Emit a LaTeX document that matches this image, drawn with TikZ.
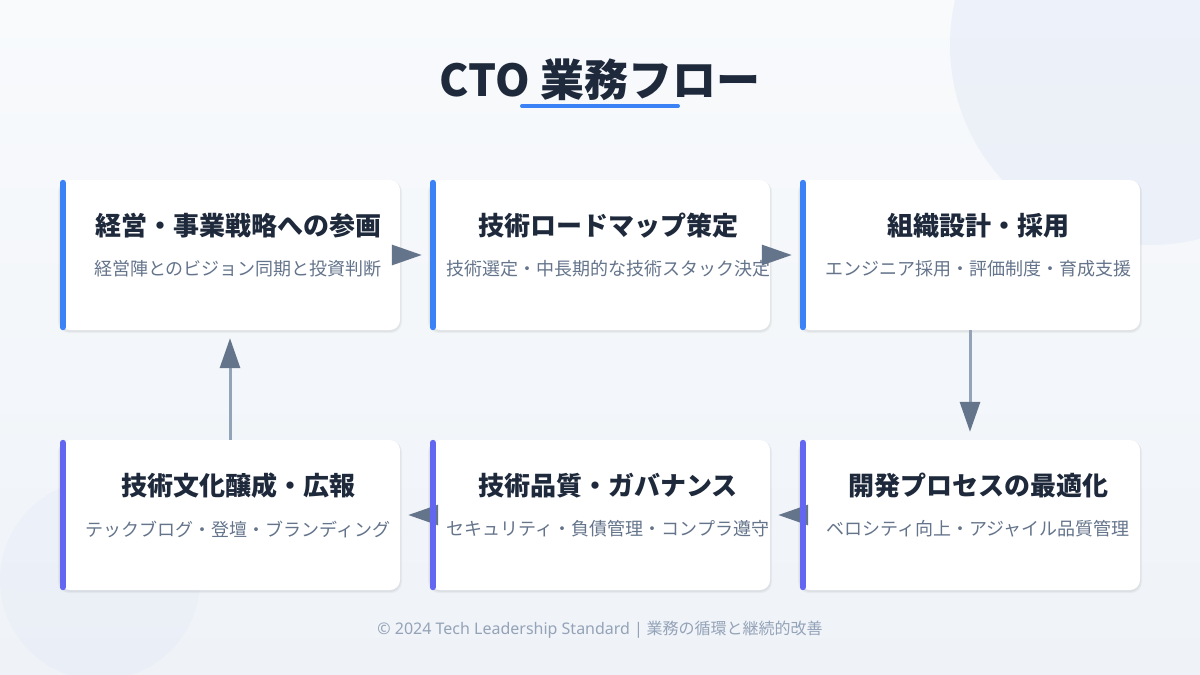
\documentclass[tikz,border=0pt]{standalone}
\usepackage{fontspec}
\setmainfont{Noto Sans CJK JP}
\newfontfamily\latinsans{Noto Sans}
\usetikzlibrary{arrows.meta,shapes.misc}
\definecolor{bgA}{HTML}{F8FAFC}
\definecolor{bgB}{HTML}{EFF3F8}
\definecolor{blob}{HTML}{E6ECF7}
\definecolor{ink}{HTML}{1E293B}
\definecolor{sub}{HTML}{64748B}
\definecolor{foot}{HTML}{94A3B8}
\definecolor{lineC}{HTML}{94A3B8}
\definecolor{headC}{HTML}{64748B}
\definecolor{barBlue}{HTML}{3B82F6}
\definecolor{barPurple}{HTML}{6366F1}
\tikzset{
  card/.style={draw=none, fill=white, rounded corners=10pt, minimum width=340pt, minimum height=150pt, inner sep=0pt},
  cardshadow/.style={fill=black, fill opacity=0.04, rounded corners=11pt},
  ctitle/.style={font=\bfseries\fontsize{26}{30}\selectfont, text=ink, inner sep=0pt},
  csub/.style={font=\fontsize{18}{21}\selectfont, text=sub, inner sep=0pt},
  flow/.style={draw=lineC, line width=3pt, shorten >=8pt, -{Triangle[length=30pt,width=20pt,color=headC]}},
  bar/.style={line width=6pt, line cap=round}
}
\begin{document}
\begin{tikzpicture}[x=1pt,y=-1pt]
\useasboundingbox (0,0) rectangle (1200,675);
% background
\shade[left color=bgA, right color=bgB, shading angle=0] (0,0) rectangle (1200,675);
\begin{scope}
\clip (0,0) rectangle (1200,675);
\fill[blob, opacity=0.6] (1150,45) circle (200);
\fill[blob, opacity=0.45] (100,580) circle (100);
\end{scope}
% title
\node[font=\bfseries\fontsize{44}{48}\selectfont, text=ink, inner sep=0pt] (title) at (600,80) {CTO 業務フロー};
\coordinate (ulA) at (522,106);
\coordinate (ulB) at (678,106);
\draw[barBlue, line width=4pt, line cap=round] (ulA) -- (ulB);
% shadows
\foreach \x/\y in {230/255,600/255,970/255,230/515,600/515,970/515}{
  \fill[cardshadow] (\x-172,\y-74) rectangle (\x+172,\y+78);
  \fill[cardshadow] (\x-171,\y-75) rectangle (\x+171,\y+77);
}
% cards
\node[card] (c1) at (230,255) {};
\node[card] (c2) at (600,255) {};
\node[card] (c3) at (970,255) {};
\node[card] (c4) at (230,515) {};
\node[card] (c5) at (600,515) {};
\node[card] (c6) at (970,515) {};
% texts
\node[ctitle] (t1) at (238,226) {経営・事業戦略への参画};
\node[csub]   (s1) at (238,269) {経営陣とのビジョン同期と投資判断};
\node[ctitle] (t2) at (608,226) {技術ロードマップ策定};
\node[csub]   (s2) at (608,269) {技術選定・中長期的な技術スタック決定};
\node[ctitle] (t3) at (978,226) {組織設計・採用};
\node[csub]   (s3) at (978,269) {エンジニア採用・評価制度・育成支援};
\node[ctitle] (t4) at (238,486) {技術文化醸成・広報};
\node[csub]   (s4) at (238,529) {テックブログ・登壇・ブランディング};
\node[ctitle] (t5) at (608,486) {技術品質・ガバナンス};
\node[csub]   (s5) at (608,529) {セキュリティ・負債管理・コンプラ遵守};
\node[ctitle] (t6) at (978,486) {開発プロセスの最適化};
\node[csub]   (s6) at (978,529) {ベロシティ向上・アジャイル品質管理};
% connectors
\draw[flow] (c1.east) -- (c2.west);
\draw[flow] (c2.east) -- (c3.west);
\draw[flow] (c3.south) -- (c6.north);
\draw[flow] (c6.west) -- (c5.east);
\draw[flow] (c5.west) -- (c4.east);
\draw[flow] (c4.north) -- (c1.south);
% accent bars
\foreach \n/\c in {c1/barBlue,c2/barBlue,c3/barBlue,c4/barPurple,c5/barPurple,c6/barPurple}{
  \draw[bar, \c] ([xshift=3pt,yshift=-3pt]\n.north west) -- ([xshift=3pt,yshift=3pt]\n.south west);
}
% footer
\node[font=\fontsize{16}{18}\selectfont, text=foot, inner sep=0pt] (footer) at (600,630) {{\latinsans © 2024 Tech Leadership Standard |} 業務の循環と継続的改善};
\end{tikzpicture}
\end{document}
